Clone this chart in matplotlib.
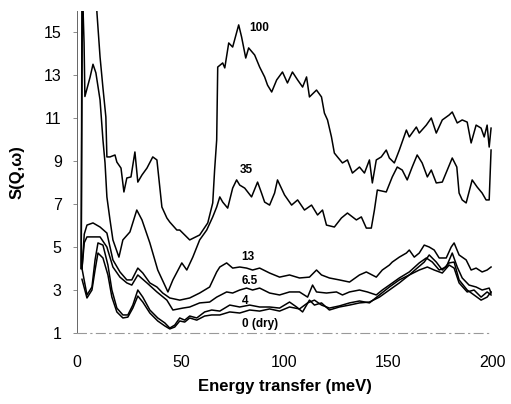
import matplotlib
matplotlib.use("Agg")
import matplotlib.pyplot as plt

# ---- data (energy transfer in meV, S(Q,w)) ----
x100 = [2.0, 2.5, 3.0, 8.0, 9.6, 11.1, 12.5, 13.9, 14.4, 15.9, 18.3, 19.2, 21.2, 22.6, 24.0, 26.0, 27.9, 29.3,
        31.3, 33.7, 36.5, 38.5, 40.9, 43.3, 44.7, 48.1, 49.5, 54.3, 59.1, 63.0, 65.4, 66.3, 67.3, 67.8, 70.2,
        71.2, 73.1, 75.0, 77.9, 79.3, 81.3, 82.7, 85.6, 88.0, 90.4, 91.8, 93.8, 96.2, 99.0, 101.4, 103.8,
        106.3, 108.7, 110.6, 112.0, 115.4, 117.8, 119.2, 120.7, 122.6, 124.0, 125.5, 127.9, 130.3, 132.7,
        136.1, 138.5, 140.9, 142.3, 144.2, 146.6, 149.0, 150.5, 152.9, 155.3, 158.7, 160.1, 163.5, 164.9,
        168.3, 170.7, 173.1, 176.0, 179.3, 180.8, 183.2, 185.6, 188.0, 189.9, 192.3, 194.7, 196.2, 197.6,
        198.6, 199.5]
y100 = [4.0, 20.0, 20.0, 20.0, 15.9, 13.84, 12.40, 11.05, 9.19, 9.19, 9.28, 8.95, 8.67, 7.56, 8.21, 8.26, 9.42, 8.02,
        8.35, 8.67, 9.19, 9.05, 6.86, 6.35, 6.16, 5.79, 5.79, 5.33, 5.56, 6.12, 7.05, 8.58, 9.98, 13.37, 13.56,
        13.33, 14.49, 14.30, 15.33, 14.77, 13.79, 14.26, 13.93, 13.37, 12.91, 12.53, 12.21, 12.77, 13.14, 12.63, 13.14,
        12.77, 12.44, 12.91, 11.98, 12.30, 11.98, 11.23, 10.91, 10.12, 9.37, 9.19, 8.91, 9.05, 8.44,
        8.72, 8.44, 9.05, 7.98, 9.05, 9.19, 9.51, 9.14, 8.91, 9.51, 10.44, 10.12, 10.58, 10.30,
        10.67, 11.00, 10.30, 10.91, 11.14, 11.28, 10.77, 10.91, 10.81, 9.84, 10.67, 10.53, 10.12, 10.67,
        9.65, 10.53]

x35 = [2.0, 2.6, 3.4, 3.8, 6.3, 7.7, 9.1, 11.1, 12.5, 13.5, 14.4, 15.9, 17.3, 20.2, 22.1, 25.5, 28.8, 31.3,
       35.1, 38.9, 43.8, 46.2, 50.5, 52.9, 55.8, 59.1, 62.5, 65.4, 67.3, 68.8, 70.2, 72.6, 75.0, 76.9, 78.4,
       80.8, 84.1, 87.0, 88.9, 90.4, 92.8, 95.2, 96.6, 100.0, 103.4, 106.3, 109.6, 113.0, 115.9, 118.3, 120.2,
       124.0, 127.4, 130.3, 134.6, 137.0, 139.4, 141.8, 143.3, 144.7, 149.0, 151.9, 154.3, 156.7, 159.1,
       161.5, 163.9, 166.3, 168.8, 170.7, 173.1, 176.0, 178.4, 180.8, 183.0, 184.1, 185.6, 187.5, 190.4,
       192.8, 195.2, 197.1, 198.6, 199.5]
y35 = [4.0, 17.0, 14.5, 12.0, 12.9, 13.5, 13.1, 11.84, 9.98, 8.91, 7.33, 6.26, 5.33, 4.53, 5.33, 5.70, 6.72, 6.26,
       5.19, 3.93, 2.91, 3.47, 4.26, 3.93, 4.53, 5.33, 5.79, 6.40, 6.86, 7.33, 7.09, 6.81, 7.74, 8.12, 7.88,
       7.74, 7.33, 8.02, 7.51, 7.09, 6.95, 7.51, 8.12, 7.42, 6.95, 7.19, 6.72, 6.95, 6.49, 6.72, 6.02,
       5.93, 6.35, 6.58, 6.26, 6.40, 5.88, 5.88, 6.72, 7.65, 7.56, 8.26, 8.72, 8.58, 8.12,
       8.72, 9.28, 8.91, 8.26, 8.58, 7.98, 8.02, 8.58, 9.14, 8.72, 7.51, 7.19, 7.05, 8.12,
       7.79, 7.51, 7.19, 7.19, 9.51]

x13 = [2.4, 3.5, 4.8, 7.7, 11.1, 14.4, 17.3, 20.7, 24.0, 26.4, 29.3, 31.7, 35.1, 38.5, 41.3, 44.7, 49.5, 54.3,
       59.1, 63.9, 67.3, 68.8, 72.1, 75.0, 78.4, 81.7, 84.6, 88.0, 92.8, 97.6, 102.4, 107.2, 112.0, 115.4,
       117.8, 121.6, 126.4, 131.3, 136.1, 139.4, 144.2, 147.1, 150.5, 151.9, 155.3, 158.7, 160.1, 162.5,
       164.9, 167.3, 169.7, 172.1, 174.5, 177.9, 180.3, 181.7, 184.1, 187.5, 189.9, 192.3, 195.2, 197.6, 199.5]
y13 = [4.0, 5.6, 6.02, 6.12, 5.93, 5.65, 4.40, 3.84, 3.47, 3.47, 4.02, 3.79, 3.33, 3.14, 2.86, 2.63, 2.53, 2.63,
       2.86, 3.14, 3.84, 4.07, 4.26, 4.02, 4.07, 4.02, 3.93, 4.02, 3.79, 3.60, 3.70, 3.56, 3.60, 3.93,
       3.70, 3.56, 3.47, 3.37, 3.70, 3.84, 3.60, 3.93, 4.16, 4.30, 4.53, 4.72, 4.86, 4.53,
       4.72, 5.09, 5.00, 4.86, 4.49, 4.49, 5.00, 5.19, 4.63, 4.40, 3.93, 4.02, 3.84, 3.93, 4.07]

x65 = [2.4, 3.5, 4.8, 8.7, 11.1, 14.4, 17.3, 20.7, 24.0, 26.4, 29.3, 33.7, 38.5, 43.3, 46.2, 51.0, 54.3, 59.1,
       63.9, 67.3, 72.1, 75.0, 78.4, 81.7, 84.6, 88.0, 92.8, 97.6, 102.4, 107.2, 111.1, 113.5, 115.4, 120.2,
       125.0, 127.9, 131.3, 136.1, 139.9, 144.2, 147.1, 150.5, 155.3, 160.1, 164.9, 168.3, 171.2, 174.5,
       177.9, 180.8, 183.2, 185.6, 188.9, 192.3, 195.2, 198.6, 199.5]
y65 = [4.0, 5.2, 5.47, 5.47, 5.47, 5.00, 4.07, 3.60, 3.33, 3.23, 3.70, 3.33, 2.91, 2.53, 2.07, 2.16, 2.21, 2.40,
       2.44, 2.67, 2.91, 2.86, 3.00, 3.09, 3.00, 3.09, 2.86, 2.77, 2.91, 2.91, 2.67, 3.23, 2.91, 2.86,
       2.91, 2.77, 2.91, 3.00, 2.91, 2.77, 3.00, 3.23, 3.56, 3.84, 4.26, 4.49, 4.30, 3.93,
       4.07, 4.72, 4.07, 3.56, 3.23, 3.14, 3.00, 3.09, 2.86]

x4 = [2.4, 4.8, 7.2, 8.7, 10.1, 12.5, 14.9, 16.8, 19.2, 22.1, 24.5, 26.9, 29.3, 31.7, 35.1, 38.9, 42.3, 44.7,
      47.1, 49.5, 51.9, 54.3, 57.7, 61.5, 64.9, 68.8, 73.6, 78.4, 83.2, 88.0, 92.8, 97.6, 102.4, 105.8,
      108.7, 112.0, 114.4, 117.8, 121.6, 126.4, 131.3, 136.1, 140.9, 145.7, 150.5, 155.3, 160.1, 163.9,
      167.3, 169.7, 173.1, 176.0, 179.3, 181.7, 184.1, 188.0, 191.3, 194.7, 197.6, 199.5]
y4 = [4.0, 2.77, 3.14, 4.40, 5.19, 5.09, 4.16, 3.00, 2.16, 1.84, 1.84, 2.30, 3.00, 2.67, 2.07, 1.70, 1.47, 1.23,
      1.37, 1.70, 1.60, 1.79, 1.70, 1.98, 2.07, 2.02, 2.30, 2.21, 2.30, 2.21, 2.21, 2.16, 2.44, 2.21,
      1.98, 2.53, 2.30, 2.40, 2.07, 2.21, 2.30, 2.40, 2.44, 2.67, 3.00, 3.33, 3.70, 4.02,
      4.30, 4.63, 4.30, 3.93, 4.26, 4.30, 3.47, 3.00, 2.77, 2.53, 2.67, 2.91]

x0 = [2.4, 4.8, 7.2, 8.7, 10.1, 12.5, 14.9, 16.8, 19.2, 22.1, 24.5, 26.9, 29.3, 31.7, 35.1, 38.9, 42.3, 44.7,
      47.1, 49.5, 51.9, 54.3, 57.7, 61.5, 64.9, 68.8, 73.6, 78.4, 83.2, 88.0, 92.8, 97.6, 102.4, 107.2,
      111.1, 114.4, 117.8, 121.6, 126.4, 131.3, 136.1, 140.9, 145.7, 150.5, 155.3, 160.1, 164.9, 168.8,
      172.1, 176.0, 179.3, 181.7, 184.1, 188.0, 191.3, 194.7, 197.6, 199.5]
y0 = [3.5, 2.63, 3.00, 3.93, 4.72, 4.49, 3.70, 2.67, 1.98, 1.70, 1.74, 2.16, 2.72, 2.44, 1.93, 1.56, 1.33, 1.19,
      1.28, 1.56, 1.51, 1.70, 1.60, 1.79, 1.84, 1.84, 1.98, 1.93, 2.07, 2.02, 2.12, 2.02, 2.21, 2.12,
      2.40, 2.53, 2.30, 2.16, 2.26, 2.40, 2.49, 2.40, 2.77, 3.14, 3.47, 3.70, 3.93, 4.07,
      3.93, 3.79, 4.16, 4.02, 3.33, 2.91, 3.00, 2.67, 2.91, 2.77]

series = [(x100, y100), (x35, y35), (x13, y13), (x65, y65), (x4, y4), (x0, y0)]
labels = ["100", "35", "13", "6.5", "4", "0 (dry)"]
label_pos = [(83.2, 15.2), (78.4, 8.6), (79.3, 4.53), (79.3, 3.42), (79.3, 2.49), (79.3, 1.42)]

xticks = [0, 50, 100, 150, 200]
yticks = [1, 3, 5, 7, 9, 11, 13, 15]

plt.rcParams['font.family'] = ['Liberation Sans', 'DejaVu Sans']

fig = plt.figure(figsize=(5.11, 4.04), dpi=100)
ax = fig.add_axes([0.1507, 0.1757, 0.963 - 0.1507, 0.974 - 0.1757])

for xs, ys in series:
    ax.plot(xs, ys, color='black', lw=1.1)

for lab, (lx, ly) in zip(labels, label_pos):
    ax.text(lx, ly, lab, fontsize=8.5, fontweight='bold', ha='left', va='center')

ax.set_xlim(0, 200)
ax.set_ylim(1, 16)
ax.set_xticks(xticks)
ax.set_yticks(yticks)
ax.tick_params(axis='x', length=0, pad=15.5, labelsize=11.5)
ax.tick_params(axis='y', length=3, width=0.6, color='#777777', pad=8, labelsize=11.5)

for s in ['top', 'right']:
    ax.spines[s].set_visible(False)
ax.spines['left'].set_color('#666666')
ax.spines['left'].set_linewidth(0.7)
ax.spines['bottom'].set_color('#999999')
ax.spines['bottom'].set_linewidth(0.8)
ax.spines['bottom'].set_linestyle((0, (8, 4, 1, 4)))

ax.set_xlabel('Energy transfer (meV)', fontsize=12, fontweight='bold', labelpad=7)
ax.set_ylabel('S(Q,\u03c9)', fontsize=12, fontweight='bold', labelpad=14)

fig.savefig('out.png', dpi=100)
